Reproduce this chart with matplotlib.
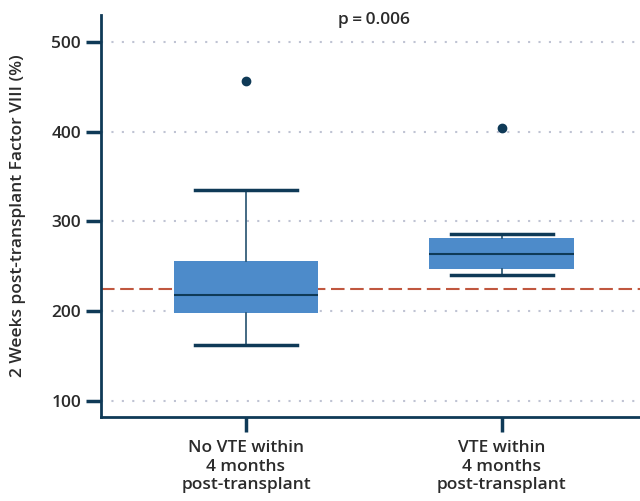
import matplotlib
matplotlib.use("Agg")
import matplotlib.pyplot as plt

plt.rcParams['font.family'] = ['Open Sans', 'DejaVu Sans']

# data
groups = ['No VTE within\n4 months\npost-transplant', 'VTE within\n4 months\npost-transplant']
q1 = [198, 247]
med = [218, 263]
q3 = [256, 281]
whislo = [162, 240]
whishi = [335, 286]
outliers = [[457], [404]]
threshold = 224
yticks = [100, 200, 300, 400, 500]
p_text = 'p\u2009=\u20090.006'

navy = '#0f3a57'
box_col = '#4d8bca'

fig = plt.figure(figsize=(6.4, 5.01), dpi=100)
ax = fig.add_axes([0.158, 0.168, 0.842, 0.802])

stats = []
for i in range(len(groups)):
    stats.append(dict(q1=q1[i], med=med[i], q3=q3[i], whislo=whislo[i], whishi=whishi[i],
                      fliers=outliers[i], label=groups[i]))

ax.bxp(stats, positions=[0, 1], widths=0.566, patch_artist=True, capwidths=0.4,
       boxprops=dict(facecolor=box_col, edgecolor=box_col, linewidth=0),
       medianprops=dict(color=navy, linewidth=1.5),
       whiskerprops=dict(color='#24506e', linewidth=1.2),
       capprops=dict(color=navy, linewidth=2.5),
       flierprops=dict(marker='o', markerfacecolor=navy, markeredgecolor=navy, markersize=6))

ax.axhline(threshold, color='#c0573f', linestyle=(0, (6.5, 2.7)), linewidth=1.5, zorder=1)

ax.set_ylim(82, 530)
ax.set_xlim(-0.566, 1.54)
ax.set_yticks(yticks)
ax.set_xticks([0, 1])
ax.set_xticklabels(groups)
ax.yaxis.grid(True, linestyle=(0, (1, 4)), color='#bfc3d3', linewidth=1.5)
ax.set_axisbelow(True)

for s in ['top', 'right']:
    ax.spines[s].set_visible(False)
for s in ['left', 'bottom']:
    ax.spines[s].set_color(navy)
    ax.spines[s].set_linewidth(2)

ax.tick_params(axis='both', colors=navy, length=11, width=2.5, labelsize=12.5, labelcolor='#2b2b2b')
ax.tick_params(axis='x', pad=6)
for lab in ax.get_xticklabels() + ax.get_yticklabels():
    lab.set_fontweight('semibold')

ax.set_ylabel('2 Weeks post-transplant Factor VIII (%)', fontsize=12.5, fontweight='semibold',
              color='#2b2b2b', labelpad=18)

ax.text(0.5, 524, p_text, ha='center', va='center', fontsize=12.5, fontweight='semibold', color='#2b2b2b')

fig.savefig('out.png', dpi=100)
